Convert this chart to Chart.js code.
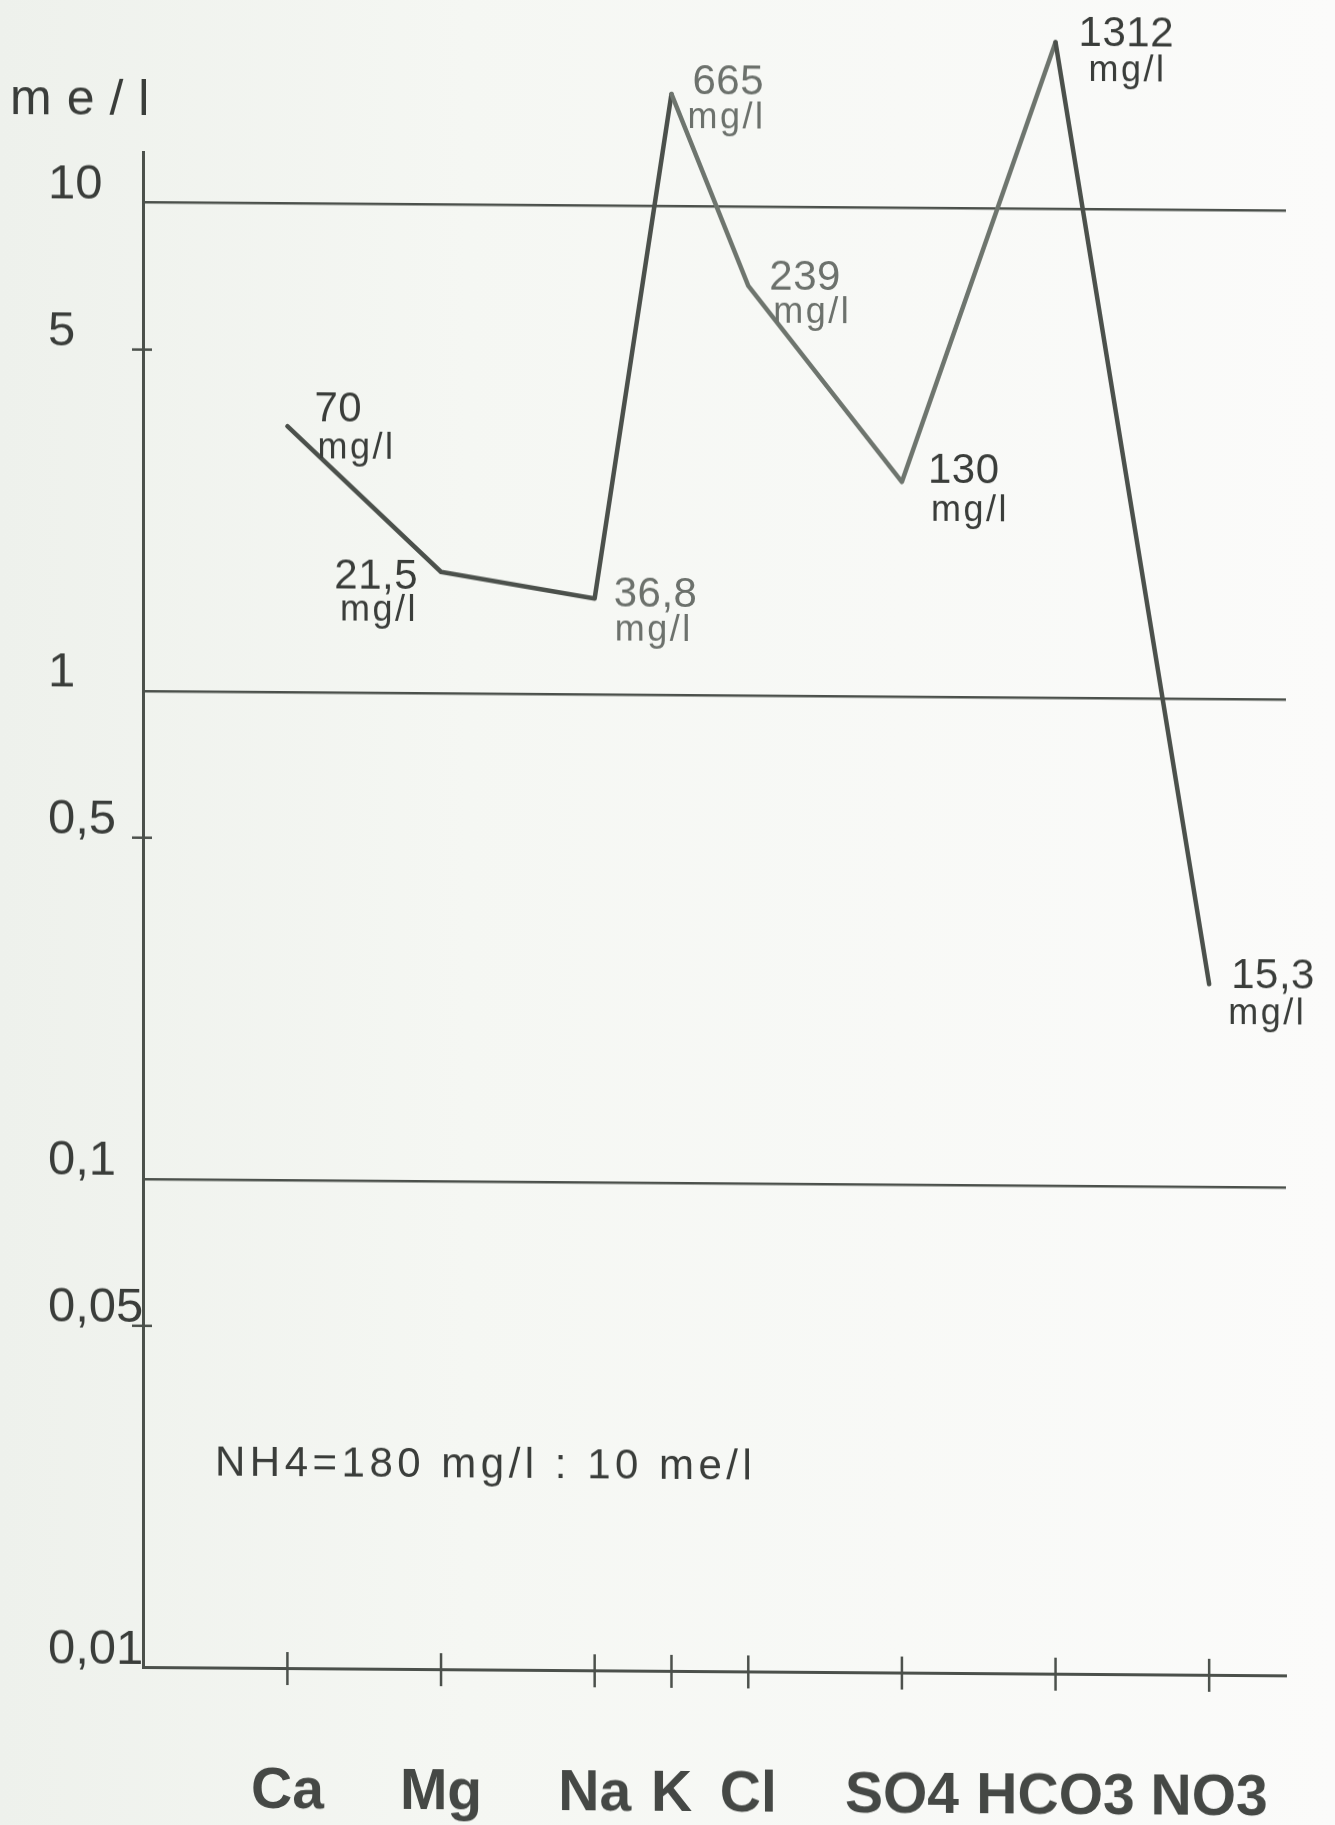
<!DOCTYPE html>
<html><head><meta charset="utf-8">
<script src="https://cdn.jsdelivr.net/npm/chart.js@4.4.0/dist/chart.umd.min.js"></script>
<style>
html,body{margin:0;padding:0;}
body{width:1335px;height:1825px;overflow:hidden;background:linear-gradient(90deg,#eef1ec 0%,#f5f7f3 35%,#fbfbfa 100%);}
#wrap{position:relative;width:1335px;height:1825px;}
#c{transform:skewY(0.42deg);transform-origin:143px 0;}
</style></head><body>
<div id="wrap"><canvas id="c" width="1335" height="1825"></canvas></div>
<script>
// ---- data ----
const categories = ['Ca','Mg','Na','K','Cl','SO4','HCO3','NO3'];
const xPositions = [0,1,2,2.5,3,4,5,6];
const meqValues = [3.5,1.77,1.57,17,6.9,2.75,22,0.26];
const mgLabels = ['70','21,5','36,8','665','239','130','1312','15,3'];
const mgUnit = 'mg/l';
const yTickValues = [10,5,1,0.5,0.1,0.05,0.01];
const yTickLabels = ['10','5','1','0,5','0,1','0,05','0,01'];
const yGridValues = [10,1,0.1];
const yMinorTickValues = [5,0.5,0.05];
const yUnit = 'me/l';
const noteText = 'NH4=180 mg/l : 10 me/l';

// ---- styles ----
const INK = '#4b504b';
const INK_LIGHT = '#6e756e';
const TEXT = '#3a3d3a';
const LIGHT = '#6c716c';
const FONT = "'Liberation Sans', Arial, sans-serif";

const labelPlacement = [
  {align:'left', dx:27, dy:-5, dx2:30, dy2:32, color:TEXT},
  {align:'right', dx:-23, dy:17, dx2:-23, dy2:49, color:TEXT},
  {align:'left', dx:19, dy:8, dx2:20, dy2:42, color:LIGHT},
  {align:'left', dx:21, dy:0, dx2:16, dy2:34, color:LIGHT},
  {align:'left', dx:21, dy:4, dx2:25, dy2:37, color:LIGHT},
  {align:'left', dx:26, dy:1, dx2:29, dy2:39, color:TEXT},
  {align:'left', dx:23, dy:3, dx2:33, dy2:38, color:TEXT},
  {align:'left', dx:22, dy:4, dx2:19, dy2:40, color:TEXT}
];

function spacedText(ctx, txt, x, y, align, spacing){
  ctx.save();
  if ('letterSpacing' in ctx) ctx.letterSpacing = spacing + 'px';
  ctx.textAlign = align;
  ctx.textBaseline = 'alphabetic';
  ctx.fillText(txt, x, y);
  ctx.restore();
}

const decorPlugin = {
  id:'decor',
  afterDatasetsDraw(chart){
    const ctx = chart.ctx;
    const xs = chart.scales.x, ys = chart.scales.y;
    ctx.save();
    ctx.strokeStyle = INK;
    ctx.lineWidth = 2.5;
    // x-axis crossing ticks
    const yAxis = ys.getPixelForValue(0.01);
    xPositions.forEach(p => {
      const px = xs.getPixelForValue(p);
      ctx.beginPath(); ctx.moveTo(px, yAxis-16); ctx.lineTo(px, yAxis+17); ctx.stroke();
    });
    // y-axis minor crossing ticks
    const xAxis = xs.left;
    yMinorTickValues.forEach(v => {
      const py = ys.getPixelForValue(v);
      ctx.beginPath(); ctx.moveTo(xAxis-11, py); ctx.lineTo(xAxis+9, py); ctx.stroke();
    });
    // point labels
    meqValues.forEach((v,i) => {
      const px = xs.getPixelForValue(xPositions[i]);
      const py = ys.getPixelForValue(v);
      const pl = labelPlacement[i];
      ctx.fillStyle = pl.color;
      ctx.font = '42px ' + FONT;
      spacedText(ctx, mgLabels[i], px+pl.dx, py+pl.dy, pl.align, 0.5);
      ctx.font = '36px ' + FONT;
      spacedText(ctx, mgUnit, px+pl.dx2, py+pl.dy2, pl.align, 2.5);
    });
    // unit label
    ctx.fillStyle = TEXT;
    ctx.font = '50px ' + FONT;
    spacedText(ctx, yUnit, 10, 115, 'left', 15);
    // note
    ctx.font = '42px ' + FONT;
    spacedText(ctx, noteText, 215, 1475, 'left', 4.5);
    ctx.restore();
  }
};

new Chart(document.getElementById('c'), {
  type:'line',
  data:{
    datasets:[{
      data: xPositions.map((x,i)=>({x:x, y:meqValues[i]})),
      borderColor: INK,
      borderWidth: 4.5,
      pointRadius: 0,
      tension: 0,
      fill: false,
      clip: false,
      borderJoinStyle:'round',
      borderCapStyle:'round',
      segment:{
        borderColor: c => (c.p0DataIndex >= 3 && c.p0DataIndex <= 5) ? INK_LIGHT : INK
      }
    }]
  },
  options:{
    responsive:false,
    animation:false,
    devicePixelRatio:1,
    layout:{padding:{left:48, top:152, right:49, bottom:0}},
    plugins:{legend:{display:false}, tooltip:{enabled:false}, title:{display:false}},
    scales:{
      x:{
        type:'linear', min:-0.94, max:6.5,
        afterBuildTicks: s => { s.ticks = xPositions.map(v=>({value:v})); },
        afterFit: s => { s.height = 158; s.paddingLeft = 0; s.paddingRight = 0; },
        grid:{drawOnChartArea:false, drawTicks:false},
        border:{display:true, color:INK, width:3},
        ticks:{
          padding:90, autoSkip:false, maxRotation:0,
          color:'#454845',
          font:{family:FONT, size:57, weight:'bold'},
          callback:(v,i)=>categories[i]
        }
      },
      y:{
        type:'logarithmic', min:0.01, max:12.7,
        afterBuildTicks: s => { s.ticks = yTickValues.map(v=>({value:v})); },
        afterFit: s => { s.width = 95; s.paddingTop = 0; s.paddingBottom = 0; },
        grid:{
          drawOnChartArea:true, drawTicks:false, lineWidth:2.5,
          color: c => (c.tick && yGridValues.includes(c.tick.value)) ? INK : 'rgba(0,0,0,0)'
        },
        border:{display:true, color:INK, width:3},
        ticks:{
          crossAlign:'far', padding:0, labelOffset:-17, autoSkip:false,
          color:TEXT,
          font:{family:FONT, size:49},
          callback:(v,i)=>yTickLabels[yTickValues.indexOf(v)]
        }
      }
    }
  },
  plugins:[decorPlugin]
});
</script>
</body></html>
